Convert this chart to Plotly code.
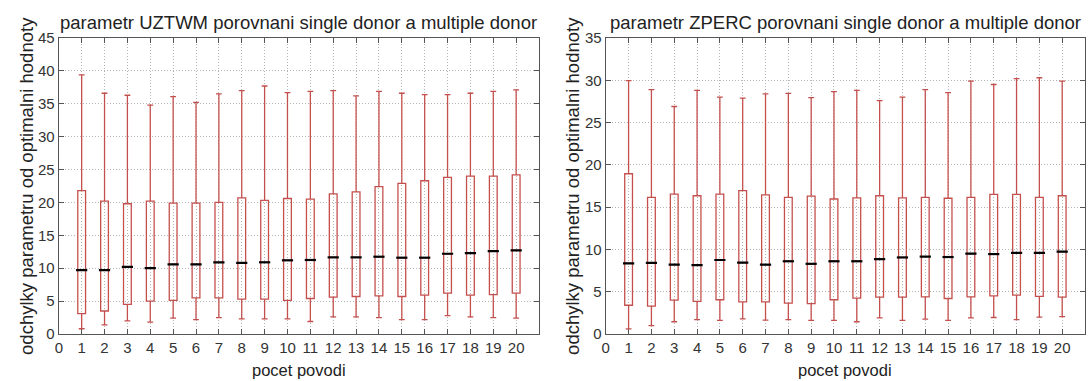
import plotly.graph_objects as go

# pocet povodi (number of catchments)
pocet = list(range(1, 21))

# UZTWM: odchylky parametru od optimalni hodnoty
uztwm_min = [0.8, 1.4, 2.0, 1.8, 2.4, 2.2, 2.5, 2.3, 2.3, 2.3,
             1.9, 2.6, 2.6, 2.5, 2.2, 2.2, 2.8, 2.6, 2.5, 2.4]
uztwm_q1 = [3.1, 3.5, 4.5, 5.0, 5.1, 5.5, 5.5, 5.3, 5.3, 5.1,
            5.4, 5.6, 5.7, 5.8, 5.7, 5.9, 6.2, 5.9, 6.0, 6.2]
uztwm_med = [9.7, 9.7, 10.2, 10.0, 10.6, 10.6, 10.9, 10.8, 10.9, 11.2,
             11.25, 11.65, 11.65, 11.75, 11.6, 11.6, 12.2, 12.3, 12.6, 12.7]
uztwm_q3 = [21.8, 20.2, 19.8, 20.2, 19.9, 19.9, 20.0, 20.7, 20.3, 20.6,
            20.5, 21.3, 21.6, 22.4, 22.9, 23.3, 23.8, 24.0, 24.0, 24.2]
uztwm_max = [39.4, 36.6, 36.3, 34.8, 36.1, 35.2, 36.5, 37.0, 37.7, 36.7,
             36.9, 37.0, 36.2, 36.9, 36.6, 36.4, 36.4, 36.6, 36.9, 37.1]

# ZPERC: odchylky parametru od optimalni hodnoty
zperc_min = [0.6, 1.0, 1.45, 1.7, 1.6, 1.8, 1.65, 1.7, 1.6, 1.6,
             1.45, 1.9, 1.6, 1.75, 1.6, 1.9, 1.95, 1.7, 2.0, 2.05]
zperc_q1 = [3.4, 3.3, 4.0, 3.85, 4.05, 3.8, 3.8, 3.65, 3.6, 4.05,
            4.25, 4.35, 4.35, 4.4, 4.2, 4.4, 4.5, 4.6, 4.45, 4.35]
zperc_med = [8.35, 8.4, 8.2, 8.15, 8.75, 8.45, 8.2, 8.6, 8.3, 8.6,
             8.6, 8.85, 9.05, 9.15, 9.1, 9.5, 9.45, 9.6, 9.6, 9.75]
zperc_q3 = [18.95, 16.15, 16.55, 16.35, 16.55, 16.95, 16.45, 16.15, 16.3, 15.96,
            16.1, 16.35, 16.1, 16.15, 16.05, 16.15, 16.5, 16.5, 16.15, 16.35]
zperc_max = [29.95, 28.9, 26.9, 28.8, 28.0, 27.9, 28.4, 28.45, 27.95, 28.65,
             28.8, 27.6, 28.0, 28.9, 28.55, 29.9, 29.5, 30.2, 30.3, 29.9]

x_ticks = list(range(0, 21))
y_ticks_uztwm = list(range(0, 46, 5))
y_ticks_zperc = list(range(0, 36, 5))

titles = ["parametr UZTWM porovnani single donor a multiple donor",
          "parametr ZPERC porovnani single donor a multiple donor"]
x_title = "pocet povodi"
y_title = "odchylky parametru od optimalni hodnoty"

FONT = "Liberation Sans, Arial, sans-serif"
BOX_RED = "#c4504e"
GRID = "#b4b4b4"
FRAME = "#555555"

W, H = 1088, 381
M_T, M_B = 38, 47
dom_left = [55 / W, 537 / W]
dom_right = [604 / W, 1085 / W]

fig = go.Figure()

panels = [
    ("x", "y", uztwm_min, uztwm_q1, uztwm_med, uztwm_q3, uztwm_max),
    ("x2", "y2", zperc_min, zperc_q1, zperc_med, zperc_q3, zperc_max),
]
for xa, ya, lo, q1, med, q3, hi in panels:
    fig.add_trace(go.Box(
        x=pocet, q1=q1, median=med, q3=q3, lowerfence=lo, upperfence=hi,
        xaxis=xa, yaxis=ya, width=0.34, whiskerwidth=0.75,
        line=dict(color=BOX_RED, width=1.3),
        fillcolor="rgba(255,255,255,0)", boxpoints=False,
        showlegend=False, hoverinfo="skip",
    ))
    # black median bars drawn over the boxes
    fig.add_trace(go.Scatter(
        x=pocet, y=med, xaxis=xa, yaxis=ya, mode="markers",
        marker=dict(symbol="line-ew", size=8,
                    line=dict(color="black", width=2.2)),
        showlegend=False, hoverinfo="skip",
    ))

axis_common = dict(
    showgrid=True, gridcolor=GRID, griddash="1px,2px", gridwidth=1,
    showline=True, linecolor=FRAME, linewidth=1.2, mirror="ticks",
    ticks="inside", ticklen=5, tickcolor=FRAME, zeroline=False,
    tickfont=dict(family=FONT, size=15, color="#333333"),
)

fig.update_layout(
    width=W, height=H,
    margin=dict(l=0, r=0, t=M_T, b=M_B),
    paper_bgcolor="white", plot_bgcolor="white",
    xaxis=dict(domain=dom_left, range=[0, 21], tickvals=x_ticks,
               anchor="y", **axis_common),
    yaxis=dict(domain=[0, 1], range=[0, 45], tickvals=y_ticks_uztwm,
               anchor="x", **axis_common),
    xaxis2=dict(domain=dom_right, range=[0, 21], tickvals=x_ticks,
                anchor="y2", **axis_common),
    yaxis2=dict(domain=[0, 1], range=[0, 35], tickvals=y_ticks_zperc,
                anchor="x2", **axis_common),
)

plot_h = H - M_T - M_B
annotations = []
for dom, ttl, ytx in [(dom_left, titles[0], 22), (dom_right, titles[1], 570)]:
    cx = (dom[0] + dom[1]) / 2
    annotations.append(dict(
        text=ttl, x=cx, y=1 + (M_T - 22) / plot_h, xref="paper", yref="paper",
        xanchor="center", yanchor="middle", showarrow=False,
        font=dict(family=FONT, size=18.5, color="#222222"),
    ))
    annotations.append(dict(
        text=x_title, x=cx, y=-(370 - (H - M_B)) / plot_h, xref="paper",
        yref="paper", xanchor="center", yanchor="middle", showarrow=False,
        font=dict(family=FONT, size=16.5, color="#222222"),
    ))
    annotations.append(dict(
        text=y_title, x=ytx / W, y=0.5, xref="paper", yref="paper",
        xanchor="center", yanchor="middle", textangle=-90, showarrow=False,
        font=dict(family=FONT, size=18.5, color="#222222"),
    ))
fig.update_layout(annotations=annotations)

fig.write_html("out.html")
